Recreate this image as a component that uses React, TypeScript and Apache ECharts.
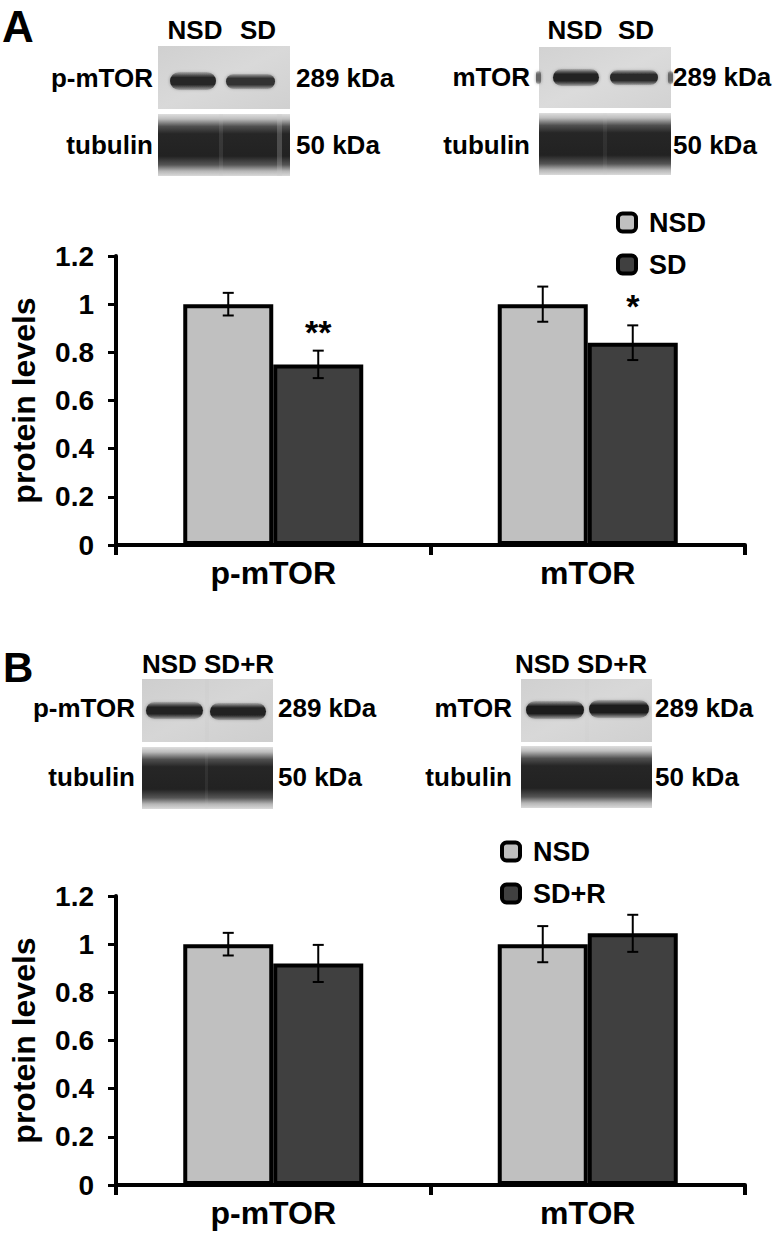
import React, { useEffect, useRef } from "react";
import * as echarts from "echarts";

// ---------- data ----------
const categories = ["p-mTOR", "mTOR"];
const nsdA = [1.0, 1.0];
const nsdErrA = [0.047, 0.073];
const sdA = [0.75, 0.84];
const sdErrA = [0.057, 0.072];
const sigA = ["**", "*"];
const nsdB = [1.0, 1.0];
const nsdErrB = [0.047, 0.075];
const sdrB = [0.92, 1.045];
const sdrErrB = [0.077, 0.077];
const sigB = ["", ""];
const legendA = ["NSD", "SD"];
const legendB = ["NSD", "SD+R"];
const yMin = 0;
const yMax = 1.2;
const yStep = 0.2;
const blotTargets = ["p-mTOR", "mTOR"];
const loadingControl = "tubulin";
const kdaTarget = "289 kDa";
const kdaControl = "50 kDa";

const FONT = "'Liberation Sans', Arial, Helvetica, sans-serif";
const BAR_W = 90;

function txt(text: string, x: number, y: number, size: number, align: string = "center", valign: string = "middle") {
  return {
    type: "text",
    x,
    y,
    z: 10,
    style: {
      text,
      fill: "#000",
      fontSize: size,
      fontWeight: "bold",
      fontFamily: FONT,
      align,
      verticalAlign: valign,
      textAlign: align,
      textVerticalAlign: valign,
    },
  };
}

function bgRect(x: number, y: number, w: number, h: number, c1: string, c2: string) {
  return {
    type: "rect",
    z: 1,
    shape: { x, y, width: w, height: h },
    style: {
      fill: new echarts.graphic.LinearGradient(0, 0, 1, 1, [
        { offset: 0, color: c1 },
        { offset: 0.5, color: c2 },
        { offset: 1, color: c1 },
      ]),
    },
  };
}

function band(x: number, y: number, w: number, h: number, dark: string) {
  return {
    type: "rect",
    z: 2,
    shape: { x, y, width: w, height: h, r: h / 2 },
    style: {
      fill: new echarts.graphic.LinearGradient(0, 0, 0, 1, [
        { offset: 0, color: "rgba(70,70,70,0.2)" },
        { offset: 0.3, color: dark },
        { offset: 0.7, color: dark },
        { offset: 1, color: "rgba(70,70,70,0.25)" },
      ]),
      shadowBlur: 3,
      shadowColor: "rgba(40,40,40,0.5)",
    },
  };
}

function tubulin(x: number, y: number, w: number, h: number) {
  return {
    type: "rect",
    z: 2,
    shape: { x, y, width: w, height: h },
    style: {
      fill: new echarts.graphic.LinearGradient(0, 0, 0, 1, [
        { offset: 0, color: "#dedede" },
        { offset: 0.08, color: "#bdbdbd" },
        { offset: 0.2, color: "#505050" },
        { offset: 0.32, color: "#262626" },
        { offset: 0.68, color: "#222222" },
        { offset: 0.82, color: "#555555" },
        { offset: 0.92, color: "#b5b5b5" },
        { offset: 1, color: "#dadada" },
      ]),
    },
  };
}

function stripe(x: number, y: number, w: number, h: number, alpha: number) {
  return {
    type: "rect",
    z: 3,
    shape: { x, y, width: w, height: h },
    style: { fill: `rgba(200,200,200,${alpha})` },
  };
}

function blotGraphics() {
  const g: any[] = [];
  // ---- Panel A ----
  g.push(txt("A", 2, 26, 44, "left"));
  // left blot (p-mTOR)
  g.push(txt(legendA[0], 195, 30, 26));
  g.push(txt(legendA[1], 258, 30, 26));
  g.push(bgRect(158, 46, 132, 63, "#d0d0d0", "#d9d9d9"));
  g.push(band(170, 72, 46, 18, "#262626"));
  g.push(band(226, 74, 49, 15, "#303030"));
  g.push(tubulin(158, 114, 132, 62));
  g.push(stripe(219, 114, 4, 62, 0.12));
  g.push(stripe(277, 114, 5, 62, 0.25));
  g.push(txt(blotTargets[0], 153, 78, 26, "right"));
  g.push(txt(loadingControl, 153, 145, 26, "right"));
  g.push(txt(kdaTarget, 296, 78, 26, "left"));
  g.push(txt(kdaControl, 296, 145, 26, "left"));
  // right blot (mTOR)
  g.push(txt(legendA[0], 575, 30, 26));
  g.push(txt(legendA[1], 636, 30, 26));
  g.push(bgRect(539, 47, 132, 61, "#d2d2d2", "#dbdbdb"));
  g.push(band(553, 69, 46, 17, "#222222"));
  g.push(band(610, 70, 48, 15, "#2a2a2a"));
  g.push(band(536, 71, 5, 13, "#666666"));
  g.push(band(668, 71, 5, 13, "#666666"));
  g.push(tubulin(539, 113, 132, 62));
  g.push(stripe(603, 113, 4, 62, 0.08));
  g.push(txt(blotTargets[1], 530, 77, 26, "right"));
  g.push(txt(loadingControl, 530, 145, 26, "right"));
  g.push(txt(kdaTarget, 673, 77, 26, "left"));
  g.push(txt(kdaControl, 673, 145, 26, "left"));

  // ---- Panel B ----
  g.push(txt("B", 3, 667, 42, "left"));
  g.push(txt(legendB[0] + " " + legendB[1], 208, 664, 26));
  g.push(bgRect(142, 679, 131, 63, "#cecece", "#d6d6d6"));
  g.push(band(146, 702, 57, 17, "#222222"));
  g.push(band(210, 703, 56, 17, "#202020"));
  g.push(stripe(205, 679, 4, 63, 0.2));
  g.push(tubulin(142, 747, 131, 62));
  g.push(stripe(205, 747, 3, 62, 0.08));
  g.push(txt(blotTargets[0], 135, 708, 26, "right"));
  g.push(txt(loadingControl, 135, 777, 26, "right"));
  g.push(txt(kdaTarget, 278, 708, 26, "left"));
  g.push(txt(kdaControl, 278, 777, 26, "left"));

  g.push(txt(legendB[0] + " " + legendB[1], 581, 664, 26));
  g.push(bgRect(521, 679, 131, 63, "#d0d0d0", "#d8d8d8"));
  g.push(band(526, 701, 58, 18, "#1c1c1c"));
  g.push(band(589, 700, 60, 18, "#1e1e1e"));
  g.push(stripe(585, 679, 4, 63, 0.15));
  g.push(tubulin(521, 746, 131, 62));
  g.push(txt(blotTargets[1], 512, 708, 26, "right"));
  g.push(txt(loadingControl, 512, 777, 26, "right"));
  g.push(txt(kdaTarget, 655, 708, 26, "left"));
  g.push(txt(kdaControl, 655, 777, 26, "left"));
  return g;
}

function errData(vals: number[], errs: number[], sig: string[], sign: number) {
  return vals.map((v, i) => ({ value: [i, v, errs[i], sign], sig: sig[i] }));
}

function errorSeries(xi: number, vals: number[], errs: number[], sig: string[], sign: number) {
  const data = errData(vals, errs, sig, sign);
  return {
    type: "custom",
    xAxisIndex: xi,
    yAxisIndex: xi,
    z: 5,
    silent: true,
    data: data.map((d) => d.value),
    renderItem: (params: any, api: any) => {
      const ci = api.value(0);
      const v = api.value(1);
      const e = api.value(2);
      const s = api.value(3);
      const top = api.coord([ci, v + e]);
      const bot = api.coord([ci, v - e]);
      const x = top[0] + (s * BAR_W) / 2;
      const cap = 5.5;
      const children: any[] = [
        { type: "line", shape: { x1: x, y1: top[1], x2: x, y2: bot[1] }, style: { stroke: "#000", lineWidth: 2 } },
        { type: "line", shape: { x1: x - cap, y1: top[1], x2: x + cap, y2: top[1] }, style: { stroke: "#000", lineWidth: 2 } },
        { type: "line", shape: { x1: x - cap, y1: bot[1], x2: x + cap, y2: bot[1] }, style: { stroke: "#000", lineWidth: 2 } },
      ];
      const label = data[params.dataIndex].sig;
      if (label) {
        children.push({
          type: "text",
          x,
          y: top[1] - 19,
          style: {
            text: label,
            fill: "#000",
            fontSize: 34,
            fontWeight: "bold",
            fontFamily: FONT,
            align: "center",
            verticalAlign: "middle",
            textAlign: "center",
            textVerticalAlign: "middle",
          },
        });
      }
      return { type: "group", children };
    },
  };
}

function barSeries(name: string, xi: number, data: number[], color: string) {
  return {
    type: "bar",
    name,
    xAxisIndex: xi,
    yAxisIndex: xi,
    data,
    barWidth: BAR_W,
    barGap: "0%",
    z: 3,
    itemStyle: { color, borderColor: "#000", borderWidth: 4 },
  };
}

export default function App() {
  const ref = useRef<HTMLDivElement>(null);
  useEffect(() => {
    document.body.style.margin = "0";
    const chart = echarts.init(ref.current!, undefined, { renderer: "svg" });
    const axisX = (i: number) => ({
      type: "category",
      gridIndex: i,
      data: categories,
      axisLine: { lineStyle: { color: "#000", width: 4 } },
      axisTick: { show: true, length: 10, lineStyle: { color: "#000", width: 4 } },
      axisLabel: { fontSize: 32, fontWeight: "bold", color: "#000", fontFamily: FONT, margin: 12 },
      splitLine: { show: false },
    });
    const axisY = (i: number) => ({
      type: "value",
      gridIndex: i,
      min: yMin,
      max: yMax,
      interval: yStep,
      name: "protein levels",
      nameLocation: "middle",
      nameRotate: 90,
      nameGap: 76,
      nameTextStyle: { fontSize: 32, fontWeight: "bold", color: "#000", fontFamily: FONT },
      axisLine: { show: true, lineStyle: { color: "#000", width: 4 } },
      axisTick: { show: true, length: 8, lineStyle: { color: "#000", width: 3 } },
      axisLabel: { fontSize: 28, fontWeight: "bold", color: "#000", fontFamily: FONT, margin: 22 },
      splitLine: { show: false },
    });
    const legend = (names: string[], left: number, top: number) => ({
      data: names,
      orient: "vertical",
      left,
      top,
      icon: "roundRect",
      itemWidth: 18,
      itemHeight: 18,
      itemGap: 15,
      itemStyle: { borderColor: "#000", borderWidth: 4 },
      textStyle: { fontSize: 27, fontWeight: "bold", color: "#000", fontFamily: FONT, padding: [0, 0, 0, 8] },
    });
    chart.setOption({
      animation: false,
      textStyle: { fontFamily: FONT },
      grid: [
        { left: 113, top: 256, width: 632, height: 289 },
        { left: 113, top: 896, width: 632, height: 289 },
      ],
      xAxis: [axisX(0), axisX(1)],
      yAxis: [axisY(0), axisY(1)],
      legend: [legend(legendA, 611, 204), legend(legendB, 495, 833)],
      series: [
        barSeries(legendA[0], 0, nsdA, "#c0c0c0"),
        barSeries(legendA[1], 0, sdA, "#404040"),
        barSeries(legendB[0], 1, nsdB, "#c0c0c0"),
        barSeries(legendB[1], 1, sdrB, "#404040"),
        errorSeries(0, nsdA, nsdErrA, ["", ""], -1),
        errorSeries(0, sdA, sdErrA, sigA, 1),
        errorSeries(1, nsdB, nsdErrB, ["", ""], -1),
        errorSeries(1, sdrB, sdrErrB, sigB, 1),
      ],
      graphic: blotGraphics(),
    });
    return () => chart.dispose();
  }, []);
  return <div ref={ref} style={{ width: 776, height: 1241 }} />;
}
